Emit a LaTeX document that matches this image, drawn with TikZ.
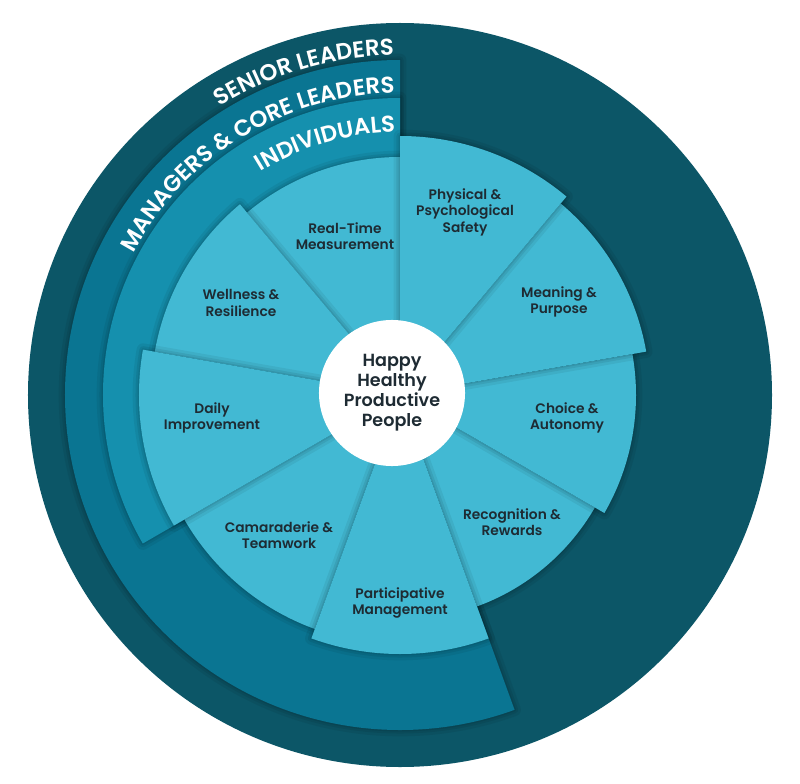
\documentclass[tikz,border=0pt]{standalone}
\usepackage{fontspec}
\setmainfont{Poppins}
\newfontfamily\labelfont{Poppins Medium}
\newfontfamily\ringfont{Poppins SemiBold}
\usetikzlibrary{positioning}
\usetikzlibrary{decorations.text}
\definecolor{seniorteal}{HTML}{0C5667}
\definecolor{managerteal}{HTML}{0A7592}
\definecolor{indivteal}{HTML}{1590AE}
\definecolor{wedgecyan}{HTML}{42B9D3}
\definecolor{labelink}{HTML}{1E2B33}
\tikzset{
    softshadow/.style = {preaction={draw=black,draw opacity=.06,line width=9pt,line join=round},
                         preaction={draw=black,draw opacity=.07,line width=5pt,line join=round},
                         preaction={draw=black,draw opacity=.08,line width=2pt,line join=round}},
    senior/.style = {fill=seniorteal},
    managers/.style = {fill=managerteal,softshadow},
    individuals/.style = {fill=indivteal,softshadow},
    wedge/.style = {fill=wedgecyan,softshadow},
    lbl/.style = {align=center,text=labelink,font=\ringfont\fontsize{9.8}{11.7}\selectfont},
    hub/.style = {circle,fill=white,minimum size=3.65cm,align=center,text=labelink,
                  font=\ringfont\fontsize{12.5}{14.2}\selectfont},
    ringtext/.style = {decorate,decoration={text along path,
                  text={|\ringfont\fontsize{16.3}{16.3}\selectfont\color{white}|#1},text align=right}}
}
\begin{document}
\begin{tikzpicture}[x=0.025cm,y=0.025cm]
\useasboundingbox (-400,-388) rectangle (400,395);
\fill[white] (-400,-388) rectangle (400,395);
%
\fill[senior] (0,0) circle[radius=372];
\fill[managers] (0,0) -- (90:335) arc[start angle=90,end angle=290,radius=335] -- cycle;
\fill[individuals] (0,0) -- (90:297) arc[start angle=90,end angle=210,radius=297] -- cycle;
%
\fill[wedge] (0,0) -- (-70:225) arc[start angle=-70,end angle=-30,radius=225] -- cycle; % recognition
\fill[wedge] (0,0) -- (-30:236) arc[start angle=-30,end angle=10,radius=236] -- cycle; % choice
\fill[wedge] (0,0) -- (10:250) arc[start angle=10,end angle=50,radius=250] -- cycle; % meaning
\fill[wedge] (0,0) -- (210:249) arc[start angle=210,end angle=250,radius=249] -- cycle; % camaraderie
\fill[wedge] (0,0) -- (90:238) arc[start angle=90,end angle=130,radius=238] -- cycle; % real-time
\fill[wedge] (0,0) -- (130:249) arc[start angle=130,end angle=170,radius=249] -- cycle; % wellness
\fill[wedge] (0,0) -- (170:261) arc[start angle=170,end angle=210,radius=261] -- cycle; % daily
\fill[wedge] (0,0) -- (250:259) arc[start angle=250,end angle=290,radius=259] -- cycle; % participative
\fill[wedge] (0,0) -- (50:259) arc[start angle=50,end angle=90,radius=259] -- cycle; % physical
%
\node[hub] at (-8,2) (hub) {Happy\\Healthy\\Productive\\People};
%
\node[lbl] at (65,183) (physical) {Physical \&\\Psychological\\Safety};
\node[lbl] at (159,93) (meaning) {Meaning \&\\Purpose};
\node[lbl] at (167,-23) (choice) {Choice \&\\Autonomy};
\node[lbl] at (112,-127) (recognition) {Recognition \&\\Rewards};
\node[lbl] at (0,-208) (participative) {Participative\\Management};
\node[lbl] at (-121,-140) (camaraderie) {Camaraderie \&\\Teamwork};
\node[lbl] at (-188,-23) (daily) {Daily\\Improvement};
\node[lbl] at (-159,92) (wellness) {Wellness \&\\Resilience};
\node[lbl] at (-55,159) (realtime) {Real-Time\\Measurement};
%
\path[ringtext={SENIOR LEADERS}] (200:340) arc[start angle=200,end angle=91,radius=340];
\path[ringtext={MANAGERS {\&} CORE LEADERS}] (200:302) arc[start angle=200,end angle=91,radius=302];
\path[ringtext={INDIVIDUALS}] (200:263) arc[start angle=200,end angle=91,radius=263];

\end{tikzpicture}
\end{document}
